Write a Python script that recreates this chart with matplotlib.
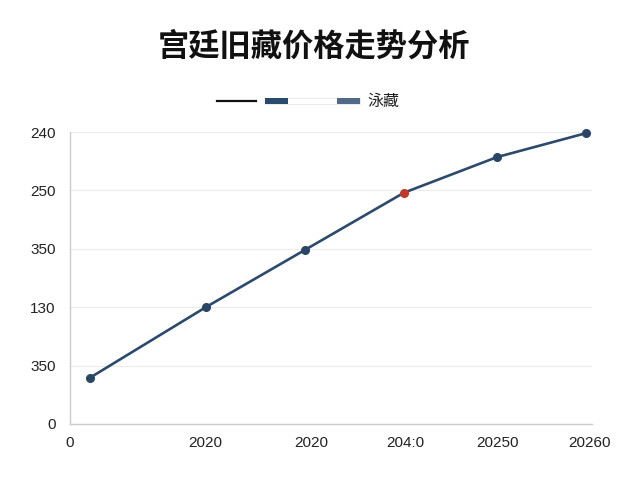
import matplotlib
matplotlib.use('Agg')
import matplotlib.pyplot as plt
from matplotlib.lines import Line2D
from matplotlib.patches import Rectangle

plt.rcParams['font.family'] = ['Noto Sans CJK SC', 'DejaVu Sans']

# ------------ DANE ------------- #
title = '宫廷旧藏价格走势分析'
legend_label = '泳藏'

years = [20, 136, 235, 334, 427, 516]
prices = [0.79, 2.0, 2.98, 3.96, 4.57, 4.98]
highlight = 3  # czerwony punkt

x_tick_pos = [0, 135, 241, 335, 428, 520]
x_tick_labels = ['0', '2020', '2020', '204:0', '20250', '20260']
y_tick_pos = [0, 1, 2, 3, 4, 5]
y_tick_labels = ['0', '350', '130', '350', '250', '240']

line_color = '#2c4a6b'
red = '#c0392b'

# ------------ WYKRES ------------- #
fig = plt.figure(figsize=(6.4, 4.8), dpi=100)
fig.patch.set_facecolor('white')
ax = fig.add_axes([0.109, 0.1167, 0.816, 0.6083])

ax.plot(years, prices, color=line_color, lw=1.9, zorder=3, clip_on=False)
others = [i for i in range(len(years)) if i != highlight]
ax.plot([years[i] for i in others], [prices[i] for i in others], 'o',
        color='#2b4566', ms=5.5, zorder=4, clip_on=False)
ax.plot(years[highlight], prices[highlight], 'o', color=red, ms=5.5,
        zorder=5, clip_on=False)

ax.set_xlim(0, 522)
ax.set_ylim(0, 5)
ax.set_xticks(x_tick_pos)
ax.set_xticklabels(x_tick_labels)
ax.set_yticks(y_tick_pos)
ax.set_yticklabels(y_tick_labels)
ax.tick_params(axis='both', length=0, labelsize=11, colors='#222222')
ax.tick_params(axis='y', pad=10)
ax.tick_params(axis='x', pad=9)
for lab in ax.get_xticklabels() + ax.get_yticklabels():
    lab.set_family(['Liberation Sans', 'DejaVu Sans'])
ax.grid(axis='y', color='#ececec', lw=0.8)
ax.set_axisbelow(True)
for s in ['top', 'right']:
    ax.spines[s].set_visible(False)
for s in ['left', 'bottom']:
    ax.spines[s].set_color('#cccccc')
    ax.spines[s].set_linewidth(1.0)

fig.text(0.49, 0.903, title, ha='center', va='center', fontsize=22.5,
         fontweight='bold', color='#111111')

# legenda rysowana recznie
ly = 1 - 101 / 480
fig.add_artist(Line2D([217 / 640, 256 / 640], [ly, ly], color='#111111',
                      lw=1.6, transform=fig.transFigure))
fig.add_artist(Rectangle((265 / 640, ly - 3 / 480), 95 / 640, 6 / 480,
                         facecolor='white', edgecolor='#e6e6e6', lw=0.6,
                         transform=fig.transFigure))
fig.add_artist(Rectangle((265 / 640, ly - 3 / 480), 23 / 640, 6 / 480,
                         facecolor='#284b6b', edgecolor='none',
                         transform=fig.transFigure))
fig.add_artist(Rectangle((337 / 640, ly - 3 / 480), 23 / 640, 6 / 480,
                         facecolor='#4f6b88', edgecolor='none',
                         transform=fig.transFigure))
fig.text(367 / 640, ly, legend_label, ha='left', va='center', fontsize=11.5,
         color='#222222')

fig.savefig('out.png', dpi=100)
